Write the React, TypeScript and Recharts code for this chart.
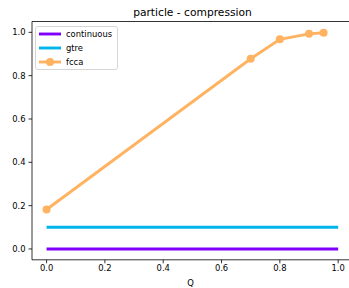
import { LineChart, Line, XAxis, YAxis, Legend, ReferenceLine } from 'recharts';

const FONT = '"DejaVu Sans", sans-serif';

const Q_CONT = [0, 1];
const V_CONT = [0, 0];
const Q_GTRE = [0, 1];
const V_GTRE = [0.1, 0.1];
const Q_FCCA = [0, 0.7, 0.8, 0.9, 0.95];
const V_FCCA = [0.182, 0.878, 0.968, 0.993, 0.998];
const TICKS = [0, 0.2, 0.4, 0.6, 0.8, 1.0];

const SERIES = [
  { name: 'continuous', color: '#8000ff', q: Q_CONT, v: V_CONT, marker: false },
  { name: 'gtre', color: '#00b5eb', q: Q_GTRE, v: V_GTRE, marker: false },
  { name: 'fcca', color: '#ffb360', q: Q_FCCA, v: V_FCCA, marker: true },
];

const toRows = (q: number[], v: number[]) => q.map((x, i) => ({ x, y: v[i] }));

function LegendBox() {
  return (
    <div
      style={{
        border: '1px solid #d6d6d6',
        borderRadius: 3,
        background: 'rgba(255,255,255,0.8)',
        padding: '0.5px 5px 0.5px 3px',
        fontFamily: FONT,
        fontSize: 8.4,
        color: '#000',
      }}
    >
      {SERIES.map((s) => (
        <div key={s.name} style={{ display: 'flex', alignItems: 'center', height: 13.7 }}>
          <svg width={22} height={10} style={{ marginRight: 5 }}>
            <line x1={0} y1={5} x2={22} y2={5} stroke={s.color} strokeWidth={2.9} />
            {s.marker && <circle cx={11} cy={5} r={4} fill={s.color} />}
          </svg>
          <span>{s.name}</span>
        </div>
      ))}
    </div>
  );
}

export default function App() {
  return (
    <div style={{ position: 'absolute', left: 0, top: 0, width: 349, height: 288, overflow: 'hidden', background: '#fff' }}>
      <div
        style={{
          position: 'absolute',
          left: 32,
          width: 321,
          top: 7.6,
          lineHeight: '10.7px',
          textAlign: 'center',
          fontFamily: FONT,
          fontSize: 10.7,
          color: '#000',
          zIndex: 2,
        }}
      >
        particle - compression
      </div>
      <LineChart width={349} height={288} margin={{ top: 21.5, right: 0, bottom: 0, left: 0 }}>
        <XAxis
          type="number"
          dataKey="x"
          domain={[-0.05, 1.0371]}
          ticks={TICKS}
          tickFormatter={(v: number) => v.toFixed(1)}
          allowDataOverflow
          height={28.2}
          tickSize={3.5}
          tickMargin={2}
          stroke="#000"
          strokeWidth={0.8}
          tick={{ fill: '#000', fontSize: 8.4, fontFamily: FONT }}
          label={{ value: 'Q', position: 'insideBottom', offset: 2.2, fill: '#000', fontSize: 8.4, fontFamily: FONT }}
        />
        <YAxis
          type="number"
          dataKey="y"
          domain={[-0.05, 1.05]}
          ticks={TICKS}
          tickFormatter={(v: number) => v.toFixed(1)}
          allowDataOverflow
          width={32}
          tickSize={3.5}
          tickMargin={3}
          stroke="#000"
          strokeWidth={0.8}
          tick={{ fill: '#000', fontSize: 8.4, fontFamily: FONT }}
        />
        <ReferenceLine y={1.05} stroke="#000" strokeWidth={0.8} />
        {SERIES.map((s) => (
          <Line
            key={s.name}
            name={s.name}
            data={toRows(s.q, s.v)}
            dataKey="y"
            stroke={s.color}
            strokeWidth={2.9}
            dot={s.marker ? { r: 4, fill: s.color, stroke: 'none' } : false}
            activeDot={false}
            isAnimationActive={false}
          />
        ))}
        <Legend
          layout="horizontal"
          verticalAlign="middle"
          align="center"
          content={() => <LegendBox />}
          wrapperStyle={{ left: 35, top: 26, width: 'auto', height: 'auto' }}
        />
      </LineChart>
    </div>
  );
}
